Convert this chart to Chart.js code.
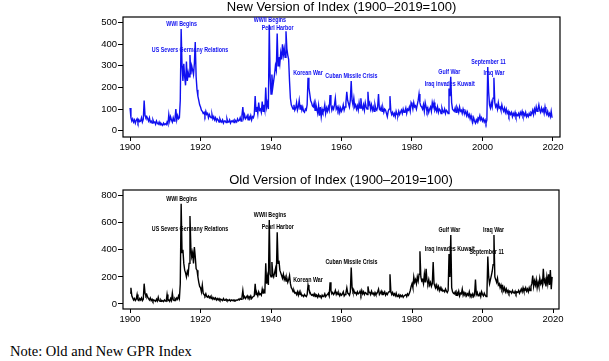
<!DOCTYPE html>
<html><head><meta charset="utf-8">
<script src="https://cdn.jsdelivr.net/npm/chart.js@4.4.0/dist/chart.umd.min.js"></script>
<style>
html,body{margin:0;padding:0;background:#fff;width:609px;height:361px;overflow:hidden}
canvas{position:absolute;left:0}
#c1{top:0}
#c2{top:170px}
#note{position:absolute;left:10px;top:344px;font:14.5px "Liberation Serif","DejaVu Serif",serif;line-height:14.5px;color:#000;white-space:nowrap}
</style></head><body>
<canvas id="c1" width="609" height="165"></canvas>
<canvas id="c2" width="609" height="165"></canvas>
<div id="note">Note: Old and New GPR Index</div>
<script>
// quarterly readings, 1900 Q1 .. 2019 Q4
const startYear = 1900;
const periodsPerYear = 4;

const newIndex = [
105,60,45,55, 40,50,35,48, 55,38,50,42, 45,60,40,52, 140,70,60,65,
55,45,60,40, 45,35,50,38, 40,30,45,35, 30,40,28,35, 30,25,35,28,
32,28,40,30, 75,45,65,50, 40,60,45,55, 100,50,70,55, 60,140,470,300,
230,310,250,210, 320,230,270,250, 350,260,300,280, 260,310,410,250, 190,160,140,120,
110,95,90,80, 85,70,90,75, 80,60,75,65, 60,75,55,65, 50,60,45,55,
50,40,55,45, 40,50,35,45, 45,38,55,40, 40,50,35,45, 42,48,38,50,
45,40,55,45, 48,60,45,70, 110,60,75,55, 60,70,50,65, 55,70,50,65,
60,75,160,90, 110,80,130,95, 100,85,135,90, 120,95,200,110, 130,100,490,250,
170,260,200,230, 260,300,280,450, 300,340,310,360, 330,400,350,380, 340,460,380,350,
330,230,150,120, 110,100,120,95, 105,130,95,110, 140,100,120,95, 110,90,85,100,
95,120,245,200, 170,140,130,115, 110,130,95,120, 100,80,115,70, 110,65,100,85,
95,120,80,105, 90,110,95,165, 120,95,110,100, 120,150,100,110, 95,110,85,105,
90,100,120,95, 110,130,180,140, 125,110,140,230, 140,120,150,110, 120,100,115,95,
130,105,150,110, 100,120,95,130, 110,100,180,120, 130,100,120,95, 110,90,120,100,
95,110,170,100, 95,110,90,105, 85,100,95,80, 65,90,100,160, 90,75,85,70,
80,65,90,75, 70,90,75,85, 95,80,100,85, 90,105,80,100, 95,110,90,130,
120,100,130,110, 115,100,120,140, 170,130,115,110, 100,120,90,130, 110,90,105,85,
100,110,90,130, 110,130,95,105, 90,110,85,100, 95,80,105,90, 85,100,80,95,
90,80,195,160, 250,130,100,95, 90,105,85,110, 100,85,110,90, 95,80,100,85,
80,90,70,85, 65,75,55,70, 50,40,60,45, 35,50,40,60, 55,70,50,60,
45,55,40,50, 35,50,295,180, 120,105,130,110, 150,245,130,110, 120,100,130,105,
110,95,120,100, 90,105,85,100, 80,90,70,85, 75,85,65,80, 70,85,65,75,
70,80,65,85, 75,90,70,80, 70,85,65,75, 65,80,70,85, 80,95,75,100,
85,110,90,100, 120,95,85,105, 90,100,80,110, 85,75,90,70, 80,65,90,60
];

const oldIndex = [
80,120,60,45, 30,40,25,35, 70,30,25,40, 30,45,25,35, 150,80,60,70,
50,40,30,45, 25,35,20,30, 25,20,35,22, 50,25,20,30, 20,25,18,30,
22,20,70,25, 30,20,40,25, 80,30,25,40, 30,45,35,60, 40,150,740,380,
400,300,250,230, 200,240,220,300, 650,420,350,380, 300,420,350,260, 250,200,160,130,
120,90,140,80, 70,60,75,55, 50,60,45,55, 40,50,35,45, 35,45,30,40,
30,40,28,35, 30,25,40,28, 28,35,25,30, 25,32,22,30, 25,30,22,28,
25,30,28,35, 30,40,35,50, 100,45,55,40, 50,60,40,55, 45,60,40,50,
55,60,150,70, 80,60,90,70, 75,65,110,80, 100,90,300,150, 200,140,620,220,
200,310,220,200, 230,260,200,530, 300,320,250,230, 210,190,220,180, 200,170,190,160,
180,210,150,120, 110,90,100,80, 85,70,90,65, 90,70,80,60, 65,55,70,60,
55,70,140,110, 90,75,65,70, 60,75,55,70, 65,50,70,55, 60,45,65,55,
60,75,55,65, 70,80,60,160, 100,75,85,70, 80,100,70,85, 70,80,60,75,
65,75,90,60, 70,85,120,80, 75,65,90,270, 120,90,100,80, 85,70,90,75,
80,95,70,100, 75,90,70,85, 80,70,130,90, 85,70,95,75, 80,65,85,70,
75,90,110,70, 80,95,70,85, 75,90,65,80, 70,85,90,220, 90,70,85,65,
75,60,80,55, 60,70,50,65, 55,65,50,60, 60,70,55,75, 65,80,100,130,
150,120,200,160, 180,150,200,170, 220,390,200,170, 180,150,220,160, 260,170,150,180,
140,160,130,150, 310,150,130,120, 140,110,130,100, 120,100,110,95, 100,90,110,95,
85,100,370,200, 510,120,90,80, 75,90,65,85, 70,95,60,80, 75,110,65,85,
70,80,60,75, 65,90,55,70, 60,75,55,70, 180,70,85,60, 65,80,55,90,
70,60,80,65, 55,70,350,200, 150,180,210,240, 290,510,200,180, 160,190,140,150,
120,140,110,130, 100,120,90,110, 85,100,80,95, 90,80,100,85, 80,95,75,90,
85,100,80,95, 110,90,120,95, 100,120,95,110, 90,120,100,130, 150,210,130,170,
140,180,120,160, 130,190,150,170, 140,260,160,180, 130,200,150,220, 140,250,110,200
];

const xTicks = [1900, 1920, 1940, 1960, 1980, 2000, 2020];
const newYTicks = [0, 100, 200, 300, 400, 500];
const oldYTicks = [0, 200, 400, 600, 800];

const eventLabels = ["WWI Begins", "US Severs Germany Relations", "WWII Begins", "Pearl Harbor",
  "Korean War", "Cuban Missile Crisis", "Iraq invades Kuwait", "Gulf War", "September 11", "Iraq War"];
const newEventYears = [1914.6, 1917.0, 1939.7, 1941.9, 1950.5, 1962.8, 1990.7, 1990.6, 2001.7, 2003.3];
const newEventValues = [470, 350, 490, 450, 245, 230, 195, 250, 295, 245];
const oldEventYears = [1914.6, 1917.0, 1939.7, 1941.9, 1950.5, 1962.8, 1990.7, 1990.6, 2001.2, 2003.1];
const oldEventValues = [740, 520, 620, 530, 140, 270, 370, 510, 350, 510];

function toPoints(vals) {
  return vals.map((v, i) => ({ x: startYear + i / periodsPerYear, y: v }));
}

const framePlugin = {
  id: 'frameAndEvents',
  afterDatasetsDraw(chart, args, opts) {
    const { ctx, chartArea: a, scales } = chart;
    ctx.save();
    ctx.strokeStyle = '#000';
    ctx.lineWidth = 1.2;
    ctx.strokeRect(a.left, a.top, a.right - a.left, a.bottom - a.top);
    ctx.fillStyle = opts.color;
    ctx.font = 'bold 7px "Liberation Sans", Arial, sans-serif';
    ctx.textAlign = 'center';
    ctx.textBaseline = 'middle';
    opts.years.forEach((yr, i) => {
      const x = scales.x.getPixelForValue(yr);
      const y = scales.y.getPixelForValue(opts.values[i]);
      ctx.save();
      ctx.translate(x, y - 5);
      ctx.scale(0.76, 1);
      ctx.fillText(opts.labels[i], 0, 0);
      ctx.restore();
    });
    ctx.restore();
  }
};

function makeChart(id, cfg) {
  const tickFont = { family: '"Liberation Sans", Arial, sans-serif', size: 9.5 };
  return new Chart(document.getElementById(id), {
    type: 'line',
    data: { datasets: [{ data: toPoints(cfg.values), borderColor: cfg.color, borderWidth: 1.4,
      pointRadius: 0, tension: 0, fill: false }] },
    options: {
      responsive: false, animation: false, devicePixelRatio: 1,
      layout: { padding: { left: 0, right: cfg.padRight, top: 0, bottom: 0 } },
      plugins: {
        legend: { display: false }, tooltip: { enabled: false },
        title: { display: true, text: cfg.title, color: '#000', fullSize: false,
          font: { family: '"Liberation Sans", Arial, sans-serif', size: 13, weight: 'normal' },
          padding: cfg.titlePad },
        frameAndEvents: { color: cfg.color, years: cfg.eventYears, values: cfg.eventValues, labels: eventLabels }
      },
      scales: {
        x: { type: 'linear', min: cfg.xMin, max: cfg.xMax,
          afterBuildTicks: s => { s.ticks = xTicks.map(v => ({ value: v })); },
          afterFit: s => { s.height = cfg.xHeight; },
          grid: { display: true, drawOnChartArea: false, drawTicks: true, tickLength: 4, color: '#000', lineWidth: 1 },
          border: { display: false },
          ticks: { color: '#000', font: tickFont, padding: 1, maxRotation: 0, autoSkip: false, callback: v => String(v) } },
        y: { type: 'linear', min: cfg.yMin, max: cfg.yMax,
          afterBuildTicks: s => { s.ticks = cfg.yTicks.map(v => ({ value: v })); },
          afterFit: s => { s.width = 123; },
          grid: { display: true, drawOnChartArea: false, drawTicks: true, tickLength: 5, color: '#000', lineWidth: 1 },
          border: { display: false },
          ticks: { color: '#000', font: tickFont, padding: 1, autoSkip: false, callback: v => String(v) } }
      }
    },
    plugins: [framePlugin]
  });
}

makeChart('c1', { values: newIndex, color: '#1010f0', title: 'New Version of Index (1900\u20132019=100)',
  titlePad: { top: 0, bottom: 1.4 }, padRight: 49, xHeight: 28, xMin: 1898, xMax: 2022,
  yMin: -29, yMax: 526, yTicks: newYTicks, eventYears: newEventYears, eventValues: newEventValues });

makeChart('c2', { values: oldIndex, color: '#000000', title: 'Old Version of Index (1900\u20132019=100)',
  titlePad: { top: 2.2, bottom: 2.2 }, padRight: 50, xHeight: 26, xMin: 1898, xMax: 2021.7,
  yMin: -37, yMax: 842, yTicks: oldYTicks, eventYears: oldEventYears, eventValues: oldEventValues });
</script>
</body></html>
